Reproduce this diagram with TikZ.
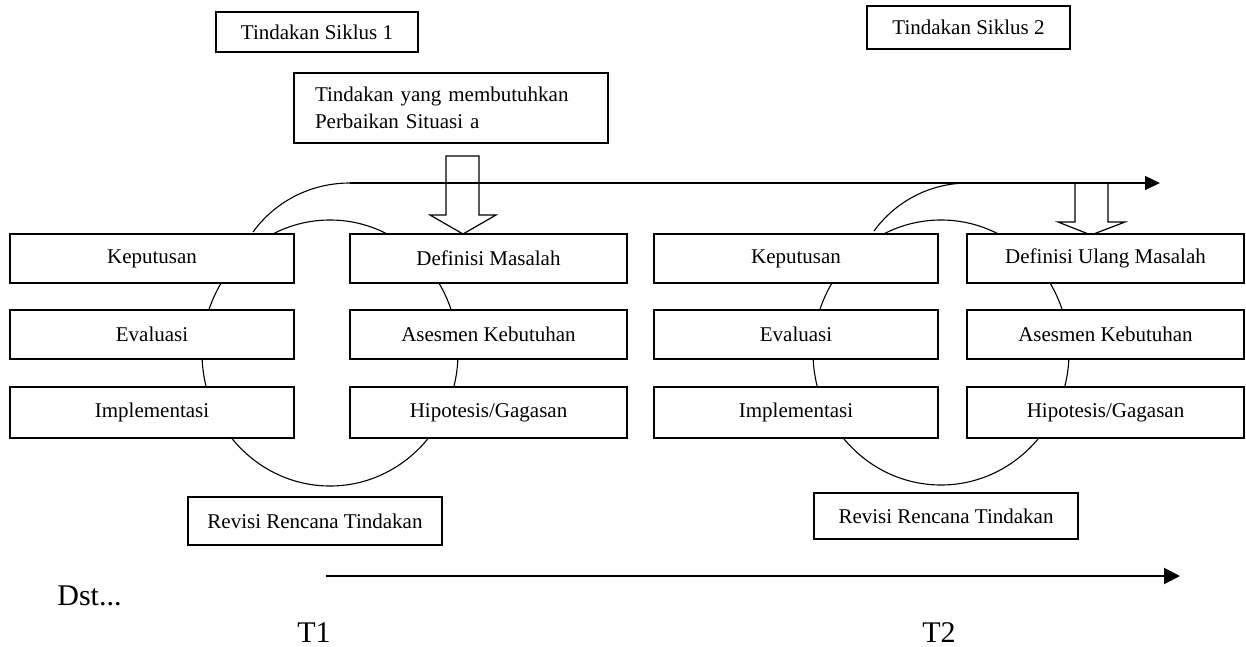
\documentclass[tikz,border=0pt]{standalone}
\usepackage{fontspec}
\setmainfont{Liberation Serif}
\usetikzlibrary{arrows.meta}
\begin{document}
\begin{tikzpicture}[x=0.5pt,y=-0.5pt,
  box/.style={draw, line width=0.6pt, fill=white, inner sep=0pt, font=\fontsize{10.5}{12.6}\selectfont},
  ring/.style={draw, line width=0.55pt},
  flow/.style={line width=0.55pt},
  hollow/.style={draw, line width=0.6pt, line join=miter},
  bigtext/.style={inner sep=0pt, font=\fontsize{15}{18}\selectfont}]
\useasboundingbox (0,0) rectangle (1246,647);

% cycles
\draw[ring] (330,353) ellipse [x radius=128, y radius=133];
\draw[ring] (941,352.5) ellipse [x radius=128, y radius=132.5];

% top flow line with arcs
\coordinate (a1s) at (253,232);
\coordinate (a1e) at (350,183);
\coordinate (a2s) at (874,231);
\coordinate (a2e) at (968,183);
\coordinate (tiptop) at (1160,183);
\draw[flow] (a1s) .. controls (275.7,200.8) and (311.4,183) .. (a1e);
\draw[flow, -{Triangle[length=7.5pt,width=7pt]}] (a1e) -- (tiptop);
\draw[flow] (a2s) .. controls (895.8,200.9) and (930.8,183) .. (a2e);

% hollow block arrows
\draw[hollow] (446,156) -- (479,156) -- (479,215) -- (496,215) -- (463,234) -- (430,215) -- (446,215) -- cycle;
\draw[hollow] (1075,183) -- (1108,183) -- (1108,222) -- (1125,222) -- (1091,235) -- (1058,222) -- (1075,222) -- cycle;

% top boxes
\node[box, minimum width=101pt, minimum height=20pt] (sik1) at (317,32) {Tindakan Siklus 1};
\node[box, minimum width=101.5pt, minimum height=21.5pt] (sik2) at (968.5,27.5) {Tindakan Siklus 2};
\node[box, minimum width=157pt, minimum height=35pt, text width=136pt, align=left, inner xsep=10.5pt,
      font=\fontsize{10.5}{13.3}\selectfont] (sit) at (451,108) {Tindakan yang membutuhkan\\Perbaikan Situasi a};

% cycle 1 boxes
\node[box, minimum width=142pt, minimum height=24.5pt] (kep1) at (152,258.5) {Keputusan};
\node[box, minimum width=142pt, minimum height=24.5pt] (eva1) at (152,334.5) {Evaluasi};
\node[box, minimum width=142pt, minimum height=25.5pt] (imp1) at (152,412.5) {Implementasi};
\node[box, minimum width=138.5pt, minimum height=24.5pt] (def1) at (488.5,258.5) {Definisi Masalah};
\node[box, minimum width=138.5pt, minimum height=24.5pt] (ase1) at (488.5,334.5) {Asesmen Kebutuhan};
\node[box, minimum width=138.5pt, minimum height=25.5pt] (hip1) at (488.5,412.5) {Hipotesis/Gagasan};
\node[box, minimum width=127pt, minimum height=24pt] (rev1) at (315,521) {Revisi Rencana Tindakan};

% cycle 2 boxes
\node[box, minimum width=142pt, minimum height=24.5pt] (kep2) at (796,258.5) {Keputusan};
\node[box, minimum width=142pt, minimum height=24.5pt] (eva2) at (796,334.5) {Evaluasi};
\node[box, minimum width=142pt, minimum height=25.5pt] (imp2) at (796,412.5) {Implementasi};
\node[box, minimum width=138.5pt, minimum height=24.5pt] (def2) at (1105.5,258.5) {Definisi Ulang Masalah};
\node[box, minimum width=138.5pt, minimum height=24.5pt] (ase2) at (1105.5,334.5) {Asesmen Kebutuhan};
\node[box, minimum width=138.5pt, minimum height=25.5pt] (hip2) at (1105.5,412.5) {Hipotesis/Gagasan};
\node[box, minimum width=132pt, minimum height=23pt] (rev2) at (946,516) {Revisi Rencana Tindakan};

% time line
\coordinate (tl0) at (326,576);
\coordinate (tl1) at (1180,576);
\draw[line width=1pt, -{Triangle[length=8pt,width=8pt]}] (tl0) -- (tl1);
\node[bigtext, anchor=base west] (dst) at (57,605) {Dst...};
\node[bigtext, anchor=base west] (t1) at (297,642) {T1};
\node[bigtext, anchor=base west] (t2) at (922,642) {T2};
\end{tikzpicture}
\end{document}
